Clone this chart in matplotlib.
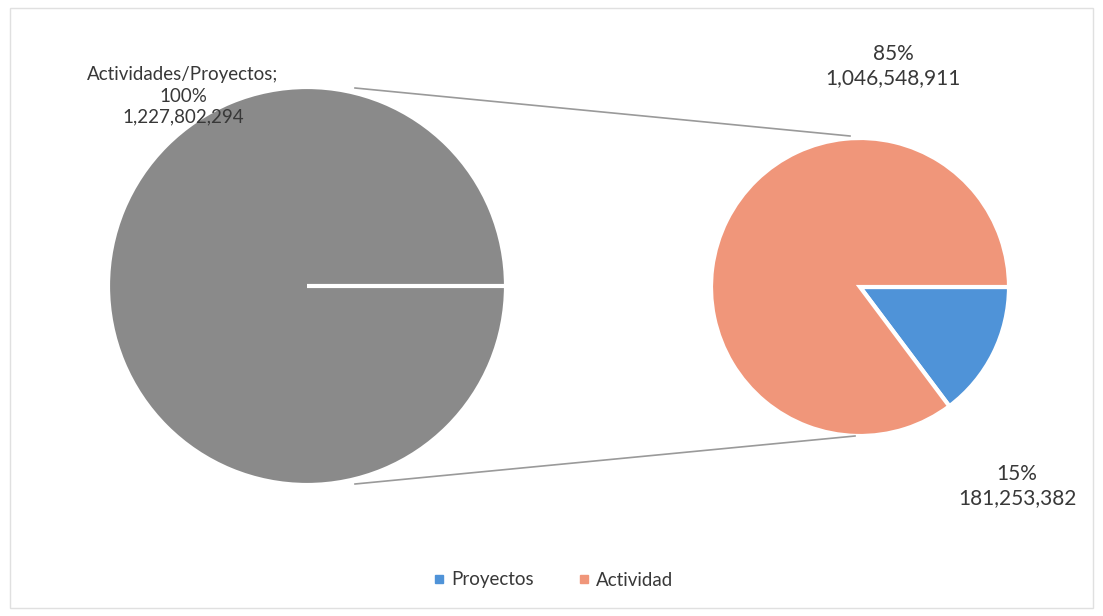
import matplotlib
matplotlib.use("Agg")
from matplotlib import pyplot as plt
from matplotlib.patches import Rectangle

# data
total_label = "Actividades/Proyectos"
total_value = 1227802294
split_names = ["Proyectos", "Actividad"]
split_values = [181253382, 1046548911]
split_pcts = ["15%", "85%"]

gray = "#8a8a8a"
colors = ["#4f93d8", "#f0967a"]
txt = "#383838"

plt.rcParams["font.family"] = ["Lato", "DejaVu Sans"]

W, H = 1103, 616
fig = plt.figure(figsize=(W / 100, H / 100), dpi=100)
ax = fig.add_axes([0, 0, 1, 1])

# big pie (left)
big_c = (307, H - 286)
big_r = 199
ax.pie([total_value], colors=[gray], center=big_c, radius=big_r, startangle=0,
       wedgeprops=dict(edgecolor="white", linewidth=3), frame=True)
# white radial edge of the single wedge
ax.plot([big_c[0], big_c[0] + big_r], [big_c[1], big_c[1]], color="white", lw=3,
        solid_capstyle="butt")

# small pie (right)
small_c = (860, H - 287)
small_r = 149
ax.pie(split_values, colors=colors, center=small_c, radius=small_r, startangle=0,
       counterclock=False, wedgeprops=dict(edgecolor="white", linewidth=3), frame=True)

# connector lines
ax.plot([355, 850], [H - 88, H - 136], color="#9a9a9a", lw=1.2)
ax.plot([355, 855], [H - 484, H - 436], color="#9a9a9a", lw=1.2)

# labels
ax.text(183, H - 96, "%s;\n100%%\n%s" % (total_label, format(total_value, ",")),
        ha="center", va="center", fontsize=13.5, color=txt, linespacing=1.3)
ax.text(893, H - 66, "%s\n%s" % (split_pcts[1], format(split_values[1], ",")),
        ha="center", va="center", fontsize=15, color=txt, linespacing=1.3)
ax.text(1017, H - 486, "%s\n%s" % (split_pcts[0], format(split_values[0], ",")),
        ha="center", va="center", fontsize=15, color=txt, linespacing=1.3)

# legend
handles = [plt.Line2D([], [], marker="s", ls="", color=c, markersize=6) for c in colors]
ax.legend(handles, split_names, loc="center", bbox_to_anchor=(0.5, 1 - 580 / H),
          ncol=2, frameon=False, fontsize=13.5, labelcolor=txt, handletextpad=0.15,
          columnspacing=2.2, handlelength=1.0)

# chart border
ax.add_patch(Rectangle((10, 8), W - 20, H - 16, fill=False, edgecolor="#e0e0e0", lw=1))

ax.set_xlim(0, W)
ax.set_ylim(0, H)
ax.set_aspect("auto")
ax.axis("off")

fig.savefig("out.png", dpi=100)
